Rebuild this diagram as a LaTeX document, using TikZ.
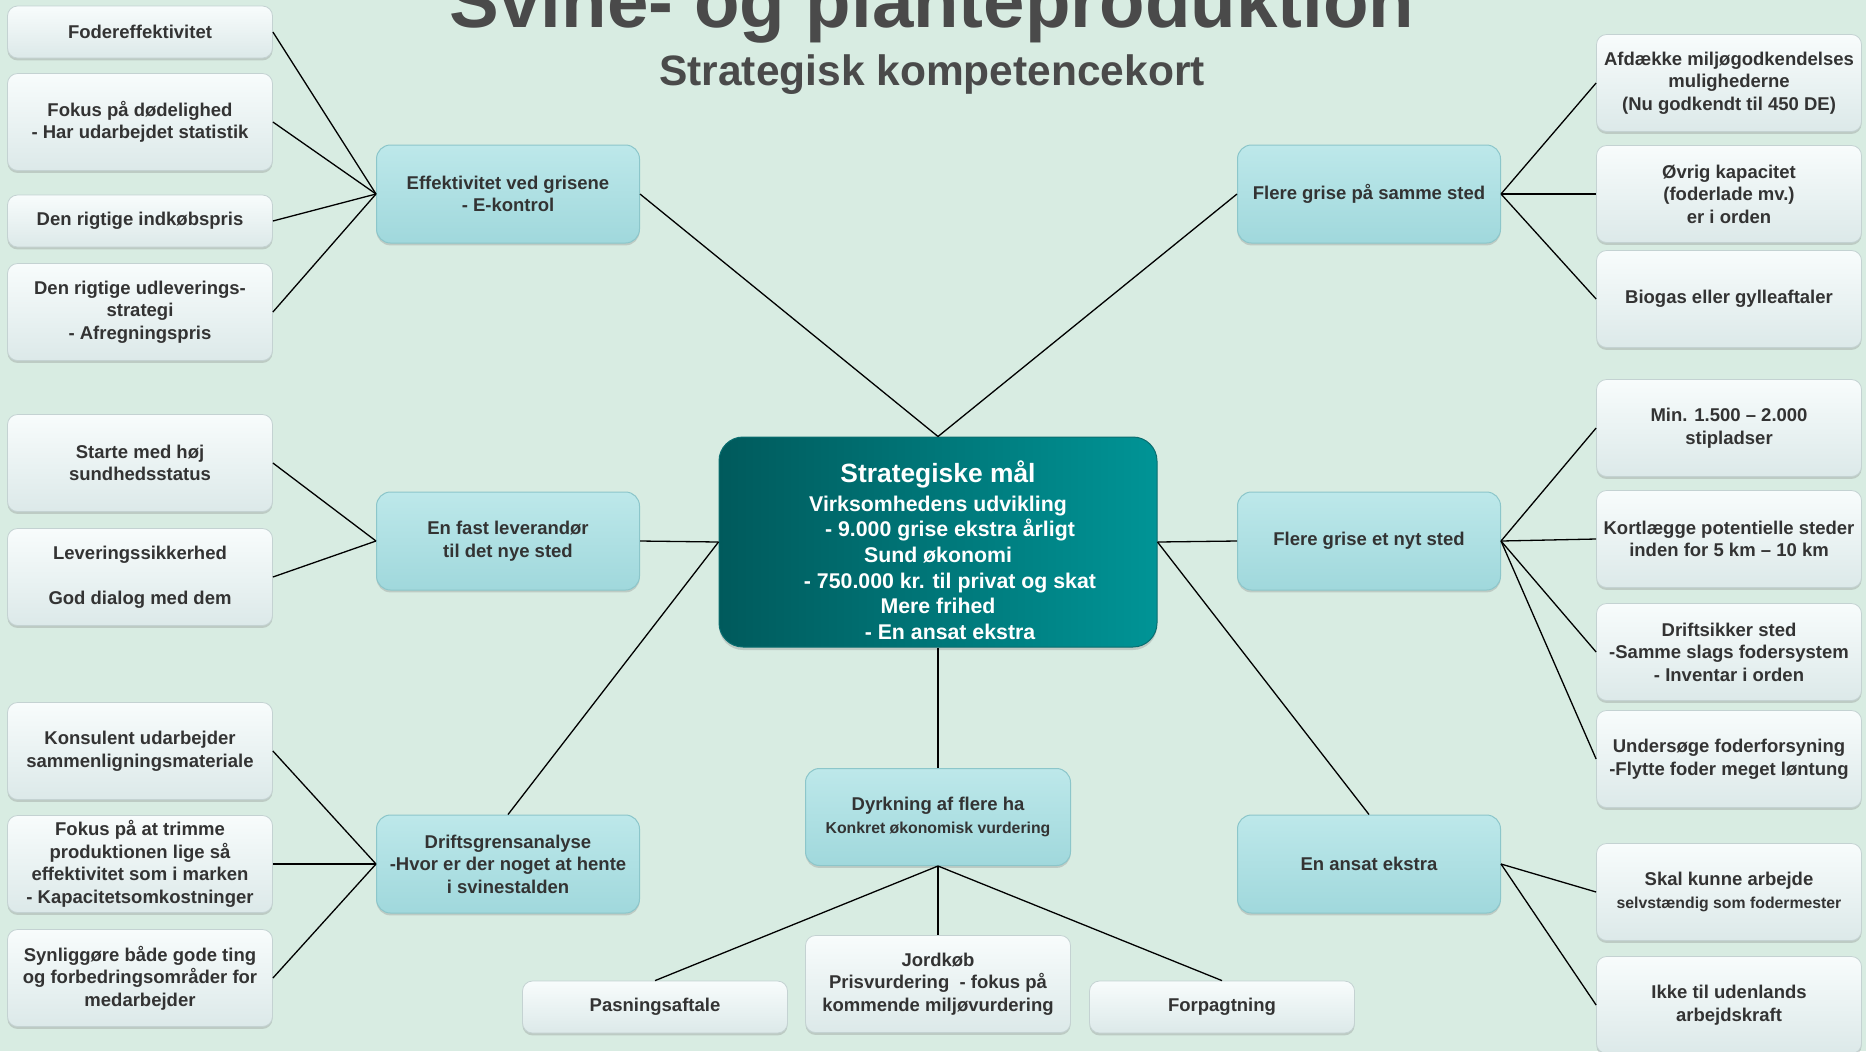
\documentclass[tikz,border=0pt]{standalone}
\usepackage{fontspec}
\setmainfont{Liberation Sans}
\usetikzlibrary{shadows}

\definecolor{bg}{HTML}{D8ECE2}
\definecolor{titlegray}{HTML}{4A4A4A}
\definecolor{txt}{HTML}{333333}
\definecolor{goalL}{HTML}{005A5C}
\definecolor{goalR}{HTML}{009496}
\definecolor{goalEdge}{HTML}{0A6E70}
\definecolor{areaT}{HTML}{BDE8EA}
\definecolor{areaB}{HTML}{A0D8DC}
\definecolor{areaEdge}{HTML}{8CC6CA}
\definecolor{itemT}{HTML}{F8FCFC}
\definecolor{itemB}{HTML}{DCE9E9}
\definecolor{itemEdge}{HTML}{C4D2D2}

\begin{document}
\begin{tikzpicture}[x=0.5pt, y=-0.5pt,
goal/.style = {rounded corners=12pt, left color=goalL, right color=goalR, draw=goalEdge, line width=0.5pt, minimum width=219pt, minimum height=105pt, inner sep=2pt, align=center, text=white, font=\bfseries\fontsize{10.65}{12.8}\selectfont, drop shadow={shadow xshift=0pt, shadow yshift=-1.5pt, opacity=0.3}},
area/.style = {rounded corners=7pt, top color=areaT, bottom color=areaB, draw=areaEdge, line width=0.5pt, minimum width=131.5pt, minimum height=49pt, inner sep=1pt, align=center, text=txt, font=\bfseries\fontsize{9.25}{11.25}\selectfont, drop shadow={shadow xshift=0pt, shadow yshift=-1.2pt, opacity=0.3}},
item/.style = {rounded corners=5pt, top color=itemT, bottom color=itemB, draw=itemEdge, line width=0.4pt, minimum width=132.5pt, minimum height=48.5pt, inner sep=1pt, align=center, text=txt, font=\bfseries\fontsize{9.25}{11.25}\selectfont, drop shadow={shadow xshift=0pt, shadow yshift=-1.2pt, opacity=0.3}},
shortitem/.style = {item, minimum height=26pt},
link/.style = {line width=0.65pt, black}]

\useasboundingbox (0,0) rectangle (1866,1051);
\clip (0,0) rectangle (1866,1051);
\fill[bg] (0,0) rectangle (1866,1051);

% titles
\node[anchor=base, text=titlegray, font=\bfseries\fontsize{37.25}{40}\selectfont] (title) at (932,27) {Svine- og planteproduktion};
\node[anchor=base, text=titlegray, font=\bfseries\fontsize{21.25}{24}\selectfont] (subtitle) at (932,85) {Strategisk kompetencekort};

% center
\node[goal] (0) at (938,542) {{\fontsize{13.2}{15}\selectfont\rule{0pt}{19pt}Strategiske mål}\\[1.5pt]
Virksomhedens udvikling\\ \hspace*{12pt}- 9.000 grise ekstra årligt\\ Sund økonomi\\
\hspace*{12pt}- 750.000 kr. til privat og skat\\ Mere frihed\\ \hspace*{12pt}- En ansat ekstra};

% areas
\node[area] (1) at (508,194) {Effektivitet ved grisene\\- E-kontrol};
\node[area] (2) at (508,541) {En fast leverandør\\til det nye sted};
\node[area] (3) at (508,864) {Driftsgrensanalyse\\-Hvor er der noget at hente\\i svinestalden};
\node[area] (4) at (1369,194) {Flere grise på samme sted};
\node[area] (5) at (1369,541) {Flere grise et nyt sted};
\node[area] (6) at (1369,864) {En ansat ekstra};
\node[area, minimum width=132.5pt, minimum height=48.5pt] (7) at (938,817) {Dyrkning af flere ha\\{\fontsize{7.9}{9.5}\selectfont Konkret økonomisk vurdering}};

% left items
\node[shortitem] (11) at (140,32) {Fodereffektivitet};
\node[item] (12) at (140,122) {Fokus på dødelighed\\- Har udarbejdet statistik};
\node[shortitem] (13) at (140,221) {Den rigtige indkøbspris};
\node[item] (14) at (140,312) {Den rigtige udleverings-\\strategi\\- Afregningspris};
\node[item] (21) at (140,463) {Starte med høj\\sundhedsstatus};
\node[item] (22) at (140,577) {Leveringssikkerhed\\[11.25pt]God dialog med dem};
\node[item] (31) at (140,751) {Konsulent udarbejder\\sammenligningsmateriale};
\node[item] (32) at (140,864) {Fokus på at trimme\\produktionen lige så\\effektivitet som i marken\\- Kapacitetsomkostninger};
\node[item] (33) at (140,978) {Synliggøre både gode ting\\og forbedringsområder for\\medarbejder};

% right items
\node[item] (41) at (1729,83) {Afdække miljøgodkendelses\\mulighederne\\(Nu godkendt til 450 DE)};
\node[item] (42) at (1729,194) {Øvrig kapacitet\\(foderlade mv.)\\er i orden};
\node[item] (43) at (1729,299) {Biogas eller gylleaftaler};
\node[item] (51) at (1729,428) {Min. 1.500 – 2.000\\stipladser};
\node[item] (52) at (1729,539) {Kortlægge potentielle steder\\inden for 5 km – 10 km};
\node[item] (53) at (1729,652) {Driftsikker sted\\-Samme slags fodersystem\\- Inventar i orden};
\node[item] (54) at (1729,759) {Undersøge foderforsyning\\-Flytte foder meget løntung};
\node[item] (61) at (1729,892) {Skal kunne arbejde\\{\fontsize{7.9}{9.5}\selectfont selvstændig som fodermester}};
\node[item] (62) at (1729,1005) {Ikke til udenlands\\arbejdskraft};

% bottom items
\node[shortitem] (71) at (655,1007) {Pasningsaftale};
\node[item] (72) at (938,984) {Jordkøb\\Prisvurdering\ \ - fokus på\\kommende miljøvurdering};
\node[shortitem] (73) at (1222,1007) {Forpagtning};

% links
\draw[link] (1.east) -- (0.north);
\draw[link] (4.west) -- (0.north);
\draw[link] (2.east) -- (0.west);
\draw[link] (3.north) -- (0.west);
\draw[link] (5.west) -- (0.east);
\draw[link] (6.north) -- (0.east);
\draw[link] (7.north) -- (0.south);

\draw[link] (11.east) -- (1.west);
\draw[link] (12.east) -- (1.west);
\draw[link] (13.east) -- (1.west);
\draw[link] (14.east) -- (1.west);
\draw[link] (21.east) -- (2.west);
\draw[link] (22.east) -- (2.west);
\draw[link] (31.east) -- (3.west);
\draw[link] (32.east) -- (3.west);
\draw[link] (33.east) -- (3.west);

\draw[link] (4.east) -- (41.west);
\draw[link] (4.east) -- (42.west);
\draw[link] (4.east) -- (43.west);
\draw[link] (5.east) -- (51.west);
\draw[link] (5.east) -- (52.west);
\draw[link] (5.east) -- (53.west);
\draw[link] (5.east) -- (54.west);
\draw[link] (6.east) -- (61.west);
\draw[link] (6.east) -- (62.west);

\draw[link] (7.south) -- (71.north);
\draw[link] (7.south) -- (72.north);
\draw[link] (7.south) -- (73.north);
\end{tikzpicture}
\end{document}
